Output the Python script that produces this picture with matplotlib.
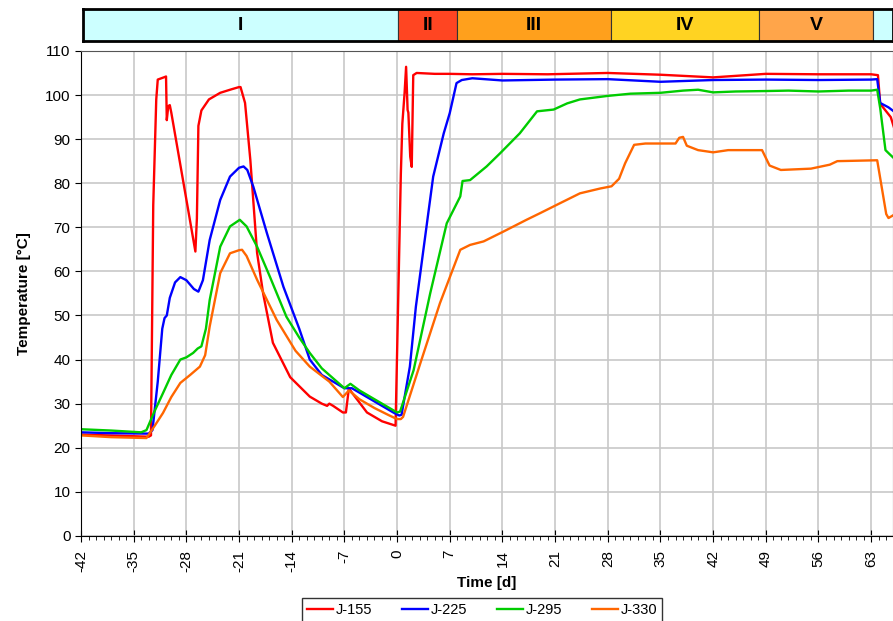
import matplotlib
matplotlib.use("Agg")
import matplotlib.pyplot as plt
from matplotlib.ticker import MultipleLocator

plt.rcParams["font.family"] = ["Liberation Sans", "DejaVu Sans"]
plt.rcParams["axes.unicode_minus"] = False

# ---- data ----
t_155 = [-42, -33, -32.7, -32.4, -32.0, -31.8, -31.0, -30.7, -30.6, -30.4, -30.2, -30.0,
         -26.8, -26.6, -26.4, -26.0, -25.0, -23.5, -22.0, -21.0, -20.8, -20.2, -19.5,
         -18.6, -17.8, -16.5, -14.2, -11.6, -10.0, -9.3, -9.0, -8.5, -7.2, -6.8, -6.4,
         -6.0, -4.0, -2.0, -0.2, 0.5, 0.7, 1.0, 1.2, 1.4, 1.5, 1.75, 1.95, 2.15, 2.6,
         5, 7, 10, 14, 20, 28, 35, 42, 49, 56, 63, 63.9, 64.2, 65.6, 66]
v_155 = [23.0, 22.5, 22.8, 75.0, 99.0, 103.5, 104.0, 104.2, 94.3, 97.5, 97.7, 96.0,
         64.5, 72.0, 93.0, 96.5, 99.0, 100.5, 101.3, 101.8, 101.8, 98.2, 85.3,
         64.2, 55.0, 43.8, 36.0, 31.6, 30.0, 29.5, 30.0, 29.5, 28.0, 28.0, 33.5,
         32.5, 28.0, 26.0, 25.0, 82.0, 93.5, 100.5, 106.4, 96.6, 96.0, 86.0, 83.7, 104.5, 105.0,
         104.8, 104.8, 104.7, 104.8, 104.7, 105.0, 104.6, 104.0, 104.8, 104.7, 104.7, 104.5,
         98.0, 95.0, 92.8]

t_225 = [-42, -38, -33, -32.5, -31.8, -31.2, -30.9, -30.6, -30.2, -29.5, -28.8, -28, -27,
         -26.4, -25.8, -24.9, -23.5, -22.2, -21, -20.4, -19.9, -19.1, -17.3, -15.1, -13,
         -11.6, -10, -8, -7, -6, -4, -2, -0.5, 0.3, 0.6, 1.7, 2.5, 3.5, 4.8, 6.2, 7.0,
         7.9, 8.6, 10, 14, 21, 28, 35, 42, 49, 56, 63, 63.8, 64.2, 65.3, 66]
v_225 = [23.5, 23.3, 23.2, 24.0, 35.0, 47.0, 49.4, 50.0, 54.0, 57.5, 58.7, 58.0, 56.0,
         55.4, 58.0, 67.1, 76.2, 81.5, 83.5, 83.8, 83.0, 79.2, 68.7, 56.5, 47.0,
         40.0, 36.5, 34.5, 33.5, 33.5, 31.5, 29.5, 28.0, 27.3, 27.5, 38.4, 52.0, 64.9, 81.5,
         91.3, 95.9, 102.7, 103.4, 103.8, 103.3, 103.5, 103.6, 103.0, 103.4, 103.5, 103.4,
         103.5, 103.6, 98.2, 97.2, 96.3]

t_295 = [-42, -38, -34, -33.3, -32.3, -31.1, -30, -28.8, -28, -27.1, -26.5, -26, -25.4,
         -24.9, -23.5, -22.2, -20.9, -20, -18.6, -16.9, -14.7, -13, -11.6, -10, -8, -7,
         -6.2, -5, -3, -1, 0, 0.4, 2.2, 4.4, 6.6, 8.4, 8.7, 9.7, 11.9, 13.7, 16.3, 18.6,
         20.8, 22.6, 24.3, 28, 31, 35, 38, 40, 42, 45, 49, 52, 56, 60, 63, 63.8, 64.2,
         64.9, 65.5, 66]
v_295 = [24.2, 23.9, 23.5, 24.0, 28.0, 32.4, 36.5, 40.0, 40.5, 41.5, 42.5, 43.0, 47.0,
         53.5, 65.6, 70.2, 71.7, 70.2, 65.6, 58.8, 49.7, 45.0, 41.5, 38.0, 35.0, 33.5,
         34.5, 33.0, 31.0, 29.0, 28.0, 28.2, 37.6, 55.0, 70.9, 77.0, 80.5, 80.7, 83.8,
         86.8, 91.3, 96.3, 96.7, 98.1, 99.0, 99.8, 100.3, 100.5, 101.0, 101.2, 100.6,
         100.8, 100.9, 101.0, 100.8, 101.0, 101.0, 101.2, 97.0, 87.5, 86.5, 85.7]

t_330 = [-42, -38, -33.3, -32.2, -31.1, -30, -28.8, -27.5, -26.2, -25.5, -24.9, -23.5,
         -22.2, -21, -20.6, -20, -18.6, -16, -13.5, -11.6, -9, -7.2, -6.4, -5, -3, -1, 0,
         0.5, 0.8, 3.1, 5.7, 8.4, 9.7, 11.5, 14.1, 17.2, 19, 21.7, 24.3, 27, 28.5, 29.5,
         30.3, 31.5, 33, 37, 37.5, 38, 38.5, 40, 42, 44, 48.5, 49.5, 51, 55, 57.5, 58.5,
         63.8, 65, 65.3, 66]
v_330 = [22.8, 22.4, 22.2, 25.0, 27.9, 31.5, 34.7, 36.5, 38.4, 41.0, 47.5, 59.6,
         64.1, 64.8, 64.9, 63.5, 58.1, 49.0, 42.0, 38.4, 35.0, 31.5, 33.0, 31.0, 29.0, 27.3,
         26.5, 26.5, 27.0, 39.2, 52.8, 64.9, 66.0, 66.8, 69.0, 71.7, 73.2, 75.5, 77.7, 78.8,
         79.3, 81.0, 84.5, 88.7, 89.0, 89.0, 90.3, 90.5, 88.5, 87.5, 87.0, 87.5, 87.5, 84.0,
         83.0, 83.3, 84.2, 85.0, 85.2, 73.0, 72.1, 72.8]

series = [("J-155", t_155, v_155, "#FF0000"),
          ("J-225", t_225, v_225, "#0000FF"),
          ("J-295", t_295, v_295, "#00CC00"),
          ("J-330", t_330, v_330, "#FF6600")]

# phase band
phase_labels = ["I", "II", "III", "IV", "V", ""]
phase_start = [-42, 0, 7.84, 28.4, 48.1, 63.3]
phase_end = [0, 7.84, 28.4, 48.1, 63.3, 72]
phase_colors = ["#CCFFFF", "#FF4522", "#FFA01C", "#FFD322", "#FFA54A", "#CCFFFF"]

fig = plt.figure(figsize=(8.93, 6.21), dpi=100)
ax = fig.add_axes([0.0907, 0.137, 0.9093, 0.781])

for name, t, v, c in series:
    ax.plot(t, v, color=c, lw=1.7, label=name)

ax.set_xlim(-42, 65.9)
ax.set_ylim(0, 110)
ax.xaxis.set_major_locator(MultipleLocator(7))
ax.xaxis.set_minor_locator(MultipleLocator(1))
ax.yaxis.set_major_locator(MultipleLocator(10))
ax.grid(True, which="major", color="#C8C8C8", lw=1.2)
ax.set_axisbelow(True)
ax.tick_params(axis="x", which="major", direction="inout", length=8, labelsize=11,
               labelrotation=90, pad=6)
ax.tick_params(axis="x", which="minor", direction="out", length=3)
ax.tick_params(axis="y", which="major", direction="out", length=4, labelsize=11)
for side in ["top", "right"]:
    ax.spines[side].set_color("#555555")
ax.set_xlabel("Time [d]", fontsize=11, fontweight="bold", labelpad=3)
ax.set_ylabel("Temperature [°C]", fontsize=11, fontweight="bold", labelpad=10)

band = fig.add_axes([0.0929, 0.934, 0.9071, 0.051])
for lab, s, e, c in zip(phase_labels, phase_start, phase_end, phase_colors):
    band.axvspan(s, e, color=c, ec="#333333", lw=0.8)
    if lab:
        band.text((s + e) / 2, 0.5, lab, ha="center", va="center",
                  fontsize=14, fontweight="bold")
band.set_xlim(-42, 65.9)
band.set_ylim(0, 1)
band.set_xticks([])
band.set_yticks([])
for sp in band.spines.values():
    sp.set_linewidth(2)
    sp.set_color("black")

leg = fig.legend(loc="upper center", bbox_to_anchor=(0.54, 0.037), ncol=4,
                 frameon=True, fancybox=False, fontsize=10.5, handlelength=1.8,
                 handletextpad=0.2, columnspacing=2.0, borderpad=0.35,
                 borderaxespad=0)
leg.get_frame().set_edgecolor("black")

fig.savefig("out.png", dpi=100)
